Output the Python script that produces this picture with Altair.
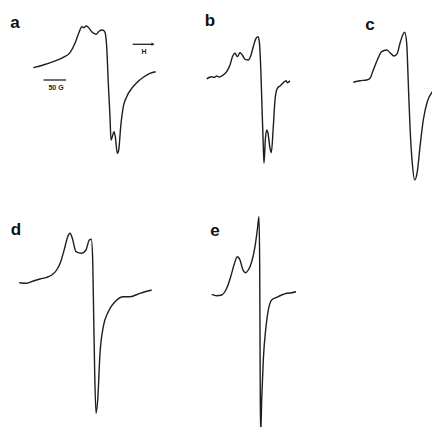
import altair as alt
import pandas as pd

# Spectra traced in figure units (x: field direction, y: signal downward)
a_x = [33.3, 43.3, 53.3, 63.3, 70, 75, 79.3, 81.7, 84, 86, 88.3, 91.7, 96, 99.3, 102.3, 104.7, 106.7, 108.3, 110, 111, 112.3, 114, 115.3, 117.3, 118.7, 120.7, 123.3, 126.7, 131.7, 136.7, 143.3, 150, 155.7]
a_y = [67.7, 65, 61.7, 57.3, 52.7, 43.3, 31.7, 26.7, 27.7, 26, 27.3, 31.7, 34.3, 31, 30, 31.7, 46.7, 83.3, 116.7, 140, 136.7, 131.7, 136.7, 153.3, 150, 126.7, 106.7, 96.7, 88.3, 82.7, 77.3, 73.3, 71.7]

b_x = [206.7, 209, 211.7, 214, 216.7, 219, 221.7, 226.7, 230, 232.7, 235, 237.3, 240, 242.3, 245, 248.3, 250.7, 253.3, 256, 258, 259.3, 260.7, 262, 263.3, 264, 265.3, 266.7, 268, 270, 271.3, 273.3, 275, 277.3, 280, 283.3, 286, 287.3, 290]
b_y = [79, 77.5, 76.7, 77.5, 76, 77, 76, 71.7, 65, 56, 53.3, 56.7, 52.7, 55, 59.3, 60, 56, 46.7, 38.3, 36.7, 41.7, 66.7, 106.7, 146.7, 163.3, 140, 130, 133.3, 148.3, 152.7, 126.7, 100, 88.3, 86, 82.7, 80.7, 82.7, 80.7]

c_x = [353.3, 360, 366.7, 370, 373.3, 377.3, 381.7, 386.7, 390, 394, 397.3, 400, 402.7, 404.7, 406.7, 408.3, 410, 412.3, 414.7, 417.3, 420, 423.3, 427.3, 431.7, 435, 440]
c_y = [82.3, 80.7, 80, 78.3, 70, 60, 51.7, 50, 52.7, 56, 53.3, 43.3, 35, 32.3, 43.3, 83.3, 126.7, 163.3, 180, 171.7, 146.7, 120, 101.7, 92.7, 89.3, 89.3]

d_x = [19.3, 26.7, 33.3, 40, 46.7, 51.7, 56.7, 60.7, 65, 67.7, 70, 72.3, 76, 81.7, 86, 89.3, 91.3, 92.7, 93.7, 94.7, 96, 97.7, 100, 103.3, 108.3, 115, 123.3, 130, 140, 151.7]
d_y = [282.7, 283.3, 281, 279, 277.3, 275, 270, 261.7, 246.7, 236.7, 233.3, 238.3, 251.7, 253.3, 250, 240, 239.3, 260, 316.7, 373.3, 413.3, 400, 353.3, 326.7, 311.7, 301.7, 296.7, 296.7, 293.3, 290]

e_x = [211.7, 216.7, 221.7, 226.7, 230.7, 234, 237.3, 240, 242.7, 245.3, 248.3, 251.7, 255, 257.3, 259, 259.7, 260, 260.3, 260.7, 261.7, 263.3, 266, 268.3, 271.7, 276.7, 281.7, 286.7, 291.7, 296]
e_y = [294.3, 295.7, 295, 288.3, 276.7, 265, 256.7, 260, 269.3, 272.7, 270, 261.7, 246.7, 230, 216.7, 266.7, 333.3, 400, 433.3, 400, 360, 326.7, 310, 300, 297.3, 295, 293.3, 292.7, 291.7]

panel_names = ["a", "b", "c", "d", "e"]
label_x = [15, 210, 370, 16, 215]
label_y = [23, 21, 25, 230, 231]

scale_bar_x = [43.5, 66]
scale_bar_y = [80, 80]
scale_text = ["50 G"]
arrow_x = [132.7, 153]
arrow_y = [44.3, 44.3]
arrow_text = ["H"]

rows = []
for name, xs_, ys_ in zip(panel_names, [a_x, b_x, c_x, d_x, e_x], [a_y, b_y, c_y, d_y, e_y]):
    for i, (x, y) in enumerate(zip(xs_, ys_)):
        rows.append({"panel": name, "i": i, "x": x, "y": y})
spec_df = pd.DataFrame(rows)

xs = alt.Scale(domain=[8, 432])
ys = alt.Scale(domain=[8, 427], reverse=True)

def X(f="x"):
    return alt.X(f"{f}:Q", scale=xs, axis=None)

def Y(f="y"):
    return alt.Y(f"{f}:Q", scale=ys, axis=None)

lines = alt.Chart(spec_df).mark_line(color="#1e1e1e", strokeWidth=1.4, clip=True, interpolate="monotone").encode(
    x=X(), y=Y(), detail="panel:N", order="i:Q"
)

labels = alt.Chart(pd.DataFrame({"t": panel_names, "x": label_x, "y": label_y})).mark_text(
    font="Liberation Sans", fontSize=17, fontWeight="bold", color="#111"
).encode(x=X(), y=Y(), text="t:N")

bar = alt.Chart(pd.DataFrame({"x": scale_bar_x, "y": scale_bar_y})).mark_line(color="#222", strokeWidth=1.3).encode(x=X(), y=Y())
bar_txt = alt.Chart(pd.DataFrame({"t": scale_text, "x": [56], "y": [88]})).mark_text(
    font="Liberation Sans", fontSize=7, fontWeight="bold", color="#222"
).encode(x=X(), y=Y(), text="t:N")

arrow = alt.Chart(pd.DataFrame({"x": arrow_x, "y": arrow_y})).mark_line(color="#222", strokeWidth=1.3).encode(x=X(), y=Y())
arrow_head = alt.Chart(pd.DataFrame({"x": [arrow_x[1]], "y": [arrow_y[1]]})).mark_point(
    shape="triangle-right", size=12, filled=True, color="#222", opacity=1
).encode(x=X(), y=Y())
arrow_txt = alt.Chart(pd.DataFrame({"t": arrow_text, "x": [144], "y": [52]})).mark_text(
    font="Liberation Sans", fontSize=7, fontWeight="bold", color="#222"
).encode(x=X(), y=Y(), text="t:N")

chart = alt.layer(lines, labels, bar, bar_txt, arrow, arrow_head, arrow_txt).properties(
    width=424, height=419, padding=0,
    autosize=alt.AutoSizeParams(type="fit", contains="padding"),
    background="white"
).configure_view(stroke=None)

chart.save("out.html", embed_options={"renderer": "svg", "actions": False})
